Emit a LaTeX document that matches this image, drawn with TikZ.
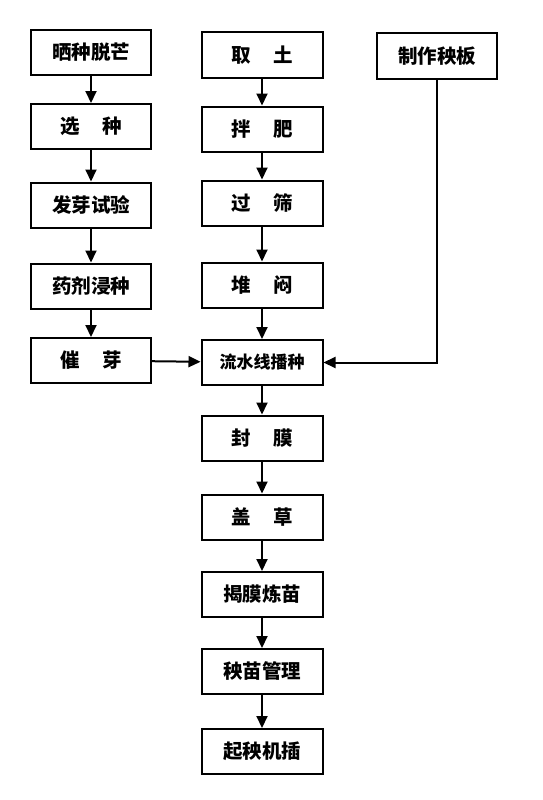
\documentclass[tikz,border=0pt]{standalone}
\usepackage{fontspec}
\newfontfamily\cjk{Noto Sans CJK SC}
\usetikzlibrary{arrows.meta}
\newcommand{\wsp}{\hspace{1.15em}}
\begin{document}
\begin{tikzpicture}[x=1pt,y=-1pt,
  box/.style={draw,line width=2pt,minimum width=120pt,minimum height=45pt,inner sep=0pt,font=\cjk\bfseries\fontsize{19.5}{21}\selectfont},
  arr/.style={line width=2pt,-{Triangle[length=12pt,width=11pt]}}]
\useasboundingbox (0,0) rectangle (543,800);
\node[box] (a1) at (91,52.5) {晒种脱芒};
\node[box] (a2) at (91,126.5) {选\wsp 种};
\node[box] (a3) at (91,205) {发芽试验};
\node[box] (a4) at (91,286) {药剂浸种};
\node[box] (a5) at (91,360.5) {催\wsp 芽};
\node[box,minimum width=121pt] (b1) at (262,55) {取\wsp 土};
\node[box,minimum width=121pt] (b2) at (262,129) {拌\wsp 肥};
\node[box,minimum width=121pt] (b3) at (262,203) {过\wsp 筛};
\node[box,minimum width=121pt] (b4) at (262,285) {堆\wsp 闷};
\node[box,minimum width=121pt,font=\cjk\bfseries\fontsize{17}{19}\selectfont] (m) at (262,362.5) {流水线播种};
\node[box,minimum width=121pt] (c1) at (262,438) {封\wsp 膜};
\node[box,minimum width=121pt] (c2) at (262,517) {盖\wsp 草};
\node[box,minimum width=121pt] (c3) at (262,594.5) {揭膜炼苗};
\node[box,minimum width=121pt] (c4) at (262,671.5) {秧苗管理};
\node[box,minimum width=121pt] (c5) at (262,751.5) {起秧机插};
\node[box] (r) at (437,56) {制作秧板};
\draw[arr] (a1) -- (a2);
\draw[arr] (a2) -- (a3);
\draw[arr] (a3) -- (a4);
\draw[arr] (a4) -- (a5);
\draw[arr] (b1) -- (b2);
\draw[arr] (b2) -- (b3);
\draw[arr] (b3) -- (b4);
\draw[arr] (b4) -- (m);
\draw[arr] (a5) -- (m);
\draw[arr] (r.south) |- (m.east);
\draw[arr] (m) -- (c1);
\draw[arr] (c1) -- (c2);
\draw[arr] (c2) -- (c3);
\draw[arr] (c3) -- (c4);
\draw[arr] (c4) -- (c5);
\end{tikzpicture}
\end{document}
